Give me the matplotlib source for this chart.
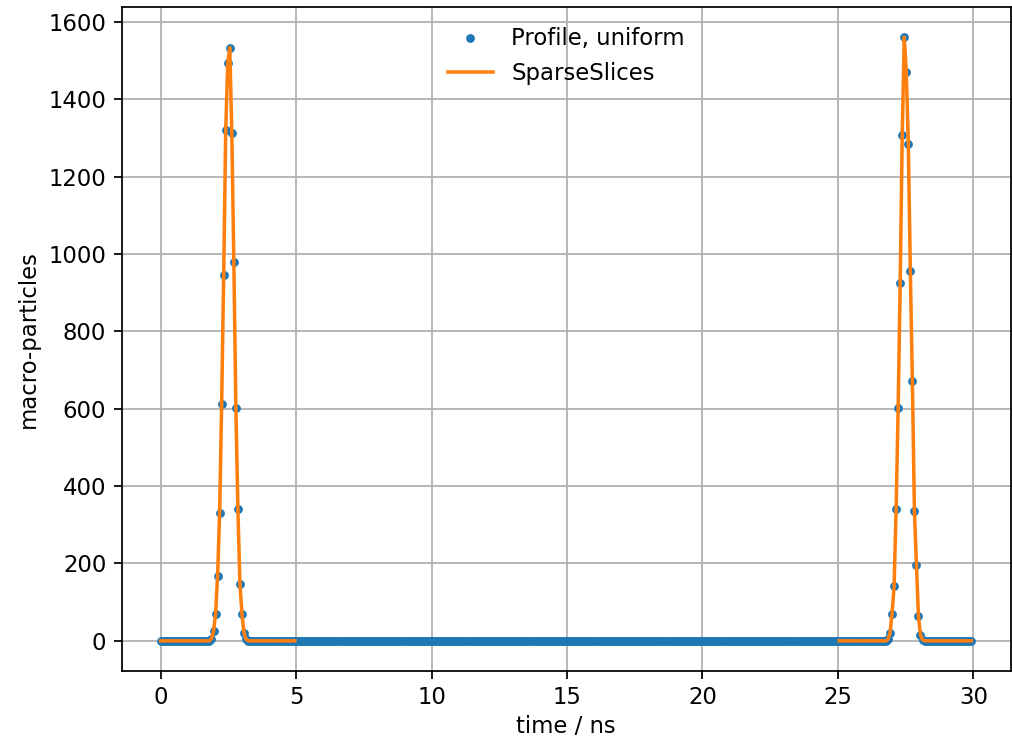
import numpy as np
import matplotlib
matplotlib.use("Agg")
import matplotlib.pyplot as plt

plt.rcParams['font.size'] = 10.35

# Profile sampling (ns)
n_slices = 400
dt = 0.075
time_ns = np.arange(n_slices) * dt

# Non-zero slice values
left_start = 25
left_peak = [5, 25, 69, 168, 330, 613, 946, 1321, 1495, 1534, 1314, 979, 602, 340, 147, 69, 21, 4]
right_start = 358
right_peak = [4, 20, 70, 141, 341, 602, 925, 1308, 1561, 1471, 1286, 956, 672, 336, 197, 63, 15, 3]

profile = np.zeros(n_slices)
profile[left_start:left_start + len(left_peak)] = left_peak
profile[right_start:right_start + len(right_peak)] = right_peak

# Sparse slices regions (ns)
sparse_regions = [(0.0, 5.0), (25.0, 30.0)]

fig = plt.figure(figsize=(1012 / 158.125, 739 / 158.125), dpi=158.125)
ax = fig.add_axes([121.7 / 1012, 0.092, (1010.7 - 121.7) / 1012, 0.8985])

ax.plot(time_ns, profile, '.', color='C0', label='Profile, uniform')
first = True
for lo, hi in sparse_regions:
    m = (time_ns >= lo - 1e-9) & (time_ns < hi + 1e-9)
    ax.plot(time_ns[m], profile[m], '-', color='C1', lw=1.6,
            label='SparseSlices' if first else None)
    first = False

ax.set_xlim(-1.44, 31.38)
ax.set_xlabel('time / ns', labelpad=2.5)
ax.set_ylabel('macro-particles')
ax.grid(True)
ax.legend(loc='upper center', frameon=False)

fig.savefig('out.png', dpi=158.125)
